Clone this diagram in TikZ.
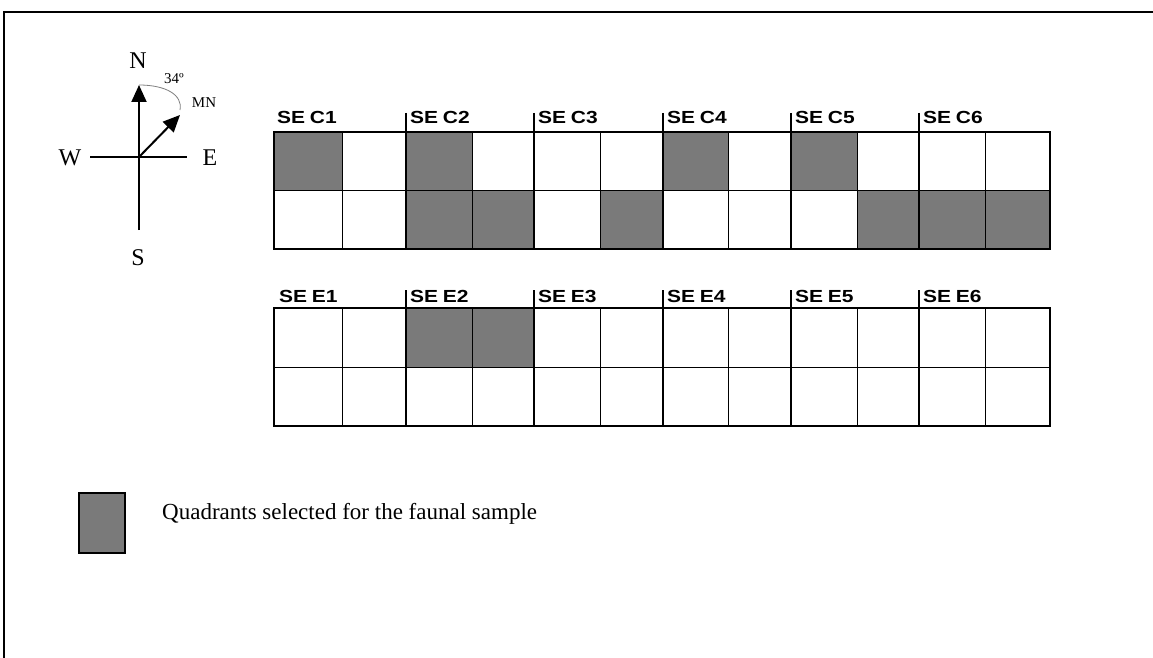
\documentclass[tikz,border=0pt]{standalone}
\usepackage{fontspec}
\setmainfont{Liberation Serif}
\newfontfamily\lblfont{Liberation Sans}
\usetikzlibrary{arrows.meta}
\definecolor{selgray}{RGB}{122,122,122}
\tikzset{
  frameline/.style={line width=2pt},
  cell/.style={rectangle, draw, line width=1pt, inner sep=0pt, outer sep=0pt, anchor=north west},
  shaded/.style={fill=selgray},
  gridouter/.style={line width=2.5pt},
  blockline/.style={line width=2pt},
  blocklabel/.style={anchor=base west, inner sep=0pt, font=\lblfont\bfseries\fontsize{17.5}{17.5}\selectfont},
  compassline/.style={line width=2pt},
  compasstext/.style={inner sep=0pt, font=\fontsize{24}{24}\selectfont},
  smalltext/.style={inner sep=0pt, font=\fontsize{15}{15}\selectfont},
  arrowtip/.style={-{Triangle[width=15pt,length=17pt]}},
}
\newcommand\selbl[1]{\scalebox{1.2}[1]{\spaceskip=0.22em #1}}
\begin{document}
\begin{tikzpicture}[x=1pt,y=-1pt]
\useasboundingbox[fill=white] (0,0) rectangle (1153,658);
% frame
\coordinate (fr-bl) at (4,658);
\coordinate (fr-tl) at (4,12);
\coordinate (fr-tr) at (1153,12);
\draw[frameline] (fr-bl) -- (fr-tl) -- (fr-tr);

% compass
\coordinate (cc) at (139,157);
\coordinate (cs) at (139,230);
\coordinate (cn) at (139,85);
\coordinate (cw) at (90,157);
\coordinate (ce) at (187,157);
\coordinate (cmn) at (180,115);
\draw[compassline] (cw) -- (ce);
\draw[compassline, arrowtip] (cs) -- (cn);
\draw[compassline, arrowtip] (cc) -- (cmn);
\node[compasstext] (lN) at (138,61) {N};
\node[compasstext] (lW) at (70,158) {W};
\node[compasstext] (lE) at (210,158) {E};
\node[compasstext] (lS) at (138,258) {S};
\node[smalltext] (lMN) at (204,103) {MN};
\node[smalltext] (l34) at (174,79) {34º};
\coordinate (arcend) at (180,110);
\draw[gray, line width=0.8pt] (cn) .. controls (166,85) and (183,95) .. (arcend);

% grids
\def\cols{1/274/342,2/342/406,3/406/472,4/472/534,5/534/600,6/600/663,7/663/728,8/728/791,9/791/857,10/857/919,11/919/985,12/985/1050}
% top grid
\foreach \c/\xa/\xb in \cols {
  \pgfmathtruncatemacro\sa{{1,0,1,0,0,0,1,0,1,0,0,0}[\c-1]}
  \pgfmathtruncatemacro\sb{{0,0,1,1,0,1,0,0,0,1,1,1}[\c-1]}
  \ifnum\sa=1
    \node[cell, shaded, minimum width={(\xb-\xa)*1pt}, minimum height=58pt] (t1-\c) at (\xa,132) {};
  \else
    \node[cell, minimum width={(\xb-\xa)*1pt}, minimum height=58pt] (t1-\c) at (\xa,132) {};
  \fi
  \ifnum\sb=1
    \node[cell, shaded, minimum width={(\xb-\xa)*1pt}, minimum height=59pt] (t2-\c) at (\xa,190) {};
  \else
    \node[cell, minimum width={(\xb-\xa)*1pt}, minimum height=59pt] (t2-\c) at (\xa,190) {};
  \fi
}
% bottom grid
\foreach \c/\xa/\xb in \cols {
  \pgfmathtruncatemacro\sa{{0,0,1,1,0,0,0,0,0,0,0,0}[\c-1]}
  \ifnum\sa=1
    \node[cell, shaded, minimum width={(\xb-\xa)*1pt}, minimum height=59pt] (b1-\c) at (\xa,308) {};
  \else
    \node[cell, minimum width={(\xb-\xa)*1pt}, minimum height=59pt] (b1-\c) at (\xa,308) {};
  \fi
  \node[cell, minimum width={(\xb-\xa)*1pt}, minimum height=59pt] (b2-\c) at (\xa,367) {};
}
% outer borders
\draw[gridouter] (t1-1.north west) rectangle (t2-12.south east);
\draw[gridouter] (b1-1.north west) rectangle (b2-12.south east);
% block separators with ticks
\foreach \c/\k in {3/2,5/3,7/4,9/5,11/6} {
  \coordinate (tt-\k) at ([yshift=19pt]t1-\c.north west);
  \draw[blockline] (tt-\k) -- (t2-\c.south west);
  \coordinate (bt-\k) at ([yshift=18pt]b1-\c.north west);
  \draw[blockline] (bt-\k) -- (b2-\c.south west);
}
% labels
\node[blocklabel] (lc1) at (277,124) {\selbl{SE C1}};
\node[blocklabel] (le1) at (279,302) {\selbl{SE E1}};
\foreach \c/\k in {3/2,5/3,7/4,9/5,11/6} {
  \node[blocklabel] (lc\k) at ([xshift=4pt,yshift=-11pt]tt-\k) {\selbl{SE C\k}};
  \node[blocklabel] (le\k) at ([xshift=4pt,yshift=-12pt]bt-\k) {\selbl{SE E\k}};
}

% legend
\node[rectangle, draw, fill=selgray, line width=1.5pt, minimum width=46pt, minimum height=60pt, inner sep=0pt, anchor=north west] (legbox) at (78,492) {};
\node[anchor=base west, inner sep=0pt, font=\fontsize{23}{23}\selectfont] (legtext) at (162,519) {Quadrants selected for the faunal sample};
\end{tikzpicture}
\end{document}
